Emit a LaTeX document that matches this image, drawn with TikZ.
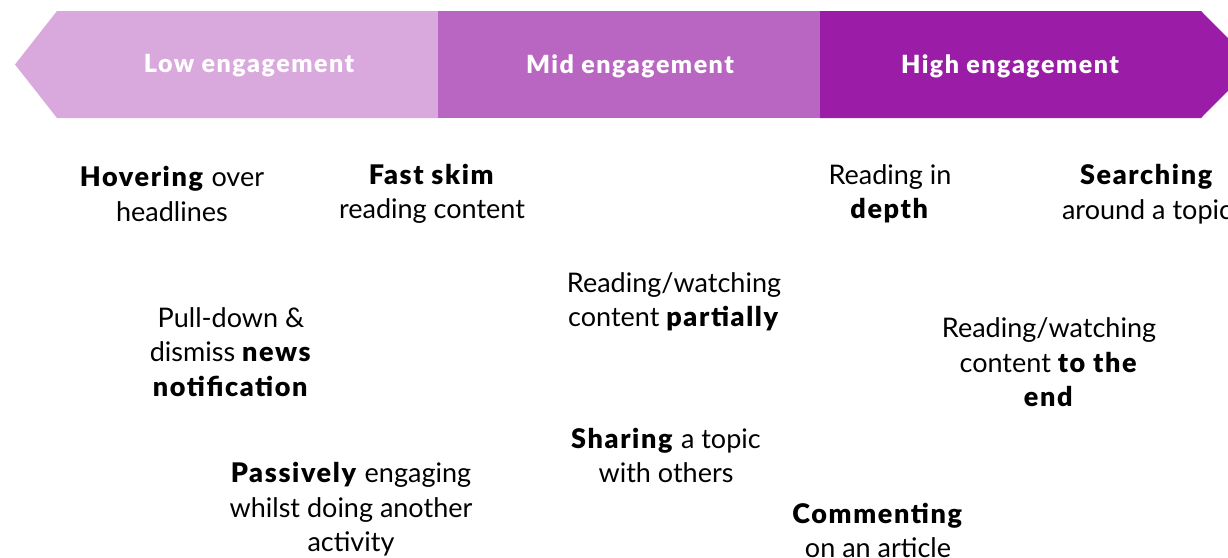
\documentclass[tikz,border=0pt]{standalone}
\usepackage{fontspec}
\setmainfont{Lato}[BoldFont={Lato Black},BoldFeatures={LetterSpace=6}]
\definecolor{lowc}{RGB}{217,168,220}
\definecolor{midc}{RGB}{185,101,194}
\definecolor{highc}{RGB}{155,29,167}
\begin{document}
\begin{tikzpicture}[x=1pt,y=-1pt,
  band/.style={white,font=\fontsize{25}{30}\selectfont\bfseries},
  item/.style={align=center,inner sep=0pt,text=black,font=\fontsize{27}{34.5}\selectfont}]
\useasboundingbox (0,0) rectangle (1228,557);
\clip (0,0) rectangle (1228,557);
\fill[lowc] (57,11) -- (438,11) -- (438,118) -- (57,118) -- (15,64.5) -- cycle;
\fill[midc] (438,11) rectangle (820,118);
\fill[highc] (820,11) -- (1201,11) -- (1254,64.5) -- (1201,118) -- (820,118) -- cycle;
\node[band] (low) at (249,66) {Low engagement};
\node[band] (mid) at (630,66) {Mid engagement};
\node[band] (high) at (1010,66) {High engagement};
\node[item] (hover) at (172,194) {\textbf{Hovering} over\\headlines};
\node[item] (skim) at (432,194) {\textbf{Fast skim}\\reading content};
\node[item] (depth) at (890,194) {Reading in\\\textbf{depth}};
\node[item] (search) at (1147,194) {\textbf{Searching}\\around a topic};
\node[item] (pull) at (231,352) {Pull-down \&\\dismiss \textbf{news}\\\textbf{notification}};
\node[item] (partial) at (674,302) {Reading/watching\\content \textbf{partially}};
\node[item] (toend) at (1049,362.5) {Reading/watching\\content \textbf{to the}\\\textbf{end}};
\node[item] (share) at (666,455.5) {\textbf{Sharing} a topic\\with others};
\node[item] (passive) at (351,509.5) {\textbf{Passively} engaging\\whilst doing another\\activity};
\node[item] (comment) at (878,530.5) {\textbf{Commenting}\\on an article};
\end{tikzpicture}
\end{document}
